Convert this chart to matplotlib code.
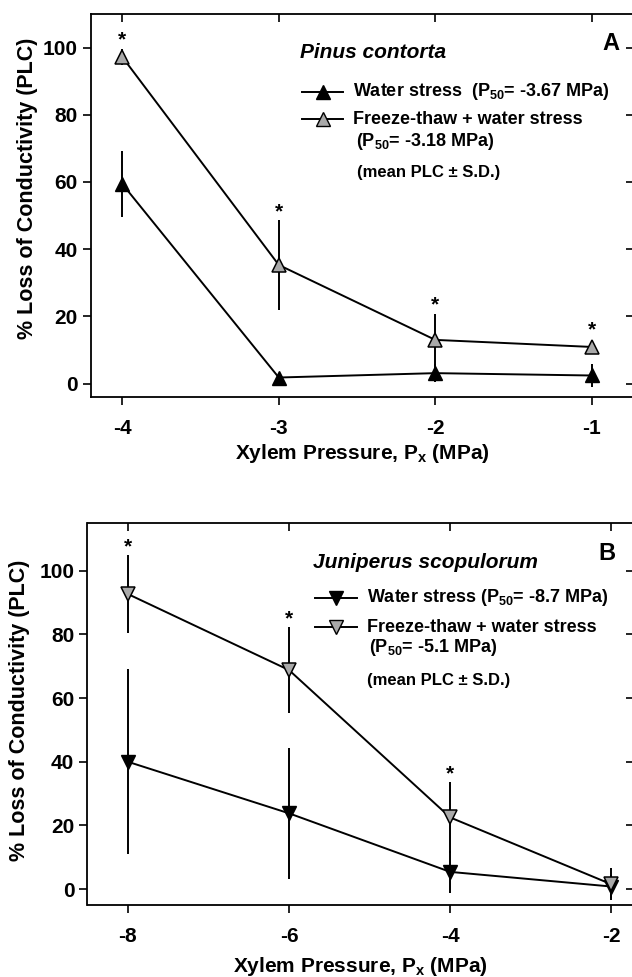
import numpy as np
import matplotlib
matplotlib.use("Agg")
import matplotlib.pyplot as plt
import matplotlib.lines as mlines

plt.rcParams['font.family'] = ['Liberation Sans', 'DejaVu Sans']
plt.rcParams['font.weight'] = 'bold'
plt.rcParams['mathtext.fontset'] = 'custom'
plt.rcParams['mathtext.rm'] = 'Liberation Sans:bold'
plt.rcParams['mathtext.it'] = 'Liberation Sans:bold:italic'
plt.rcParams['mathtext.bf'] = 'Liberation Sans:bold'

# panel A - Pinus contorta
px_a = [-4, -3, -2, -1]
ws_a = [59.4, 1.8, 3.1, 2.4]
ws_a_sd = [9.7, 1.0, 2.7, 3.4]
ft_a = [97.2, 35.3, 13.0, 10.9]
ft_a_sd = [2.5, 13.3, 7.8, 1.0]
sig_a = [True, True, True, True]

# panel B - Juniperus scopulorum
px_b = [-8, -6, -4, -2]
ws_b = [40.0, 23.8, 5.4, 0.8]
ws_b_sd = [29.0, 20.5, 6.6, 3.5]
ft_b = [92.7, 68.8, 22.5, 1.5]
ft_b_sd = [12.3, 13.5, 11.2, 5.0]
sig_b = [True, True, True, False]

yticks = [0, 20, 40, 60, 80, 100]
gray = '#a9a9a9'

W, H = 632, 977
fig = plt.figure(figsize=(W / 100, H / 100), dpi=100)


def fx(x):
    return x / W


def fy(y):
    return 1 - y / H


def panel(rect, x, ws, ws_sd, ft, ft_sd, sig, xlim, ylim, marker, ylab_pos, xpad):
    l, t, r, b = rect
    ax = fig.add_axes([fx(l), fy(b), fx(r - l), (b - t) / H])
    ax.errorbar(x, ws, yerr=ws_sd, fmt='-', color='black', lw=1.4,
                elinewidth=1.4, capsize=0, marker=marker, ms=9.5,
                mfc='black', mec='black', zorder=3)
    ax.errorbar(x, ft, yerr=ft_sd, fmt='-', color='black', lw=1.4,
                elinewidth=1.4, capsize=0, marker=marker, ms=9.5,
                mfc=gray, mec='black', mew=1.1, zorder=4)
    for xi, m, s, flag in zip(x, ft, ft_sd, sig):
        if flag:
            top = m + max(s, 2.5)
            ax.annotate('*', (xi, top), xytext=(0, 6), textcoords='offset points',
                        ha='center', va='center', fontsize=15, fontweight='bold')
    ax.set_xlim(*xlim)
    ax.set_ylim(*ylim)
    ax.set_xticks(x)
    ax.set_xticklabels([str(v) for v in x])
    ax.set_yticks(yticks)
    ax.tick_params(axis='both', labelsize=15, width=1.2, length=6, direction='out',
                   top=True, right=True)
    ax.tick_params(axis='x', pad=10)
    for tk in ax.xaxis.get_major_ticks():
        tk.tick2line.set_marker(mlines.TICKDOWN)
    for tk in ax.yaxis.get_major_ticks():
        tk.tick2line.set_marker(mlines.TICKLEFT)
    for sp in ax.spines.values():
        sp.set_linewidth(1.3)
    ax.set_ylabel('% Loss of Conductivity (PLC)', fontsize=15.5, fontweight='bold')
    ax.yaxis.set_label_coords(*ylab_pos)
    ax.set_xlabel(r'Xylem Pressure, P$_{\mathrm{x}}$ (MPa)', fontsize=15,
                  fontweight='bold', labelpad=xpad)
    return ax


def legend(x0, x1, y1, y2, marker, title, ty, lab1, lab2, lab3, y3, x3, ym, xm):
    xt = x1 + 10
    fig.text(fx(x0 - 2), fy(ty), title, fontsize=15, fontweight='bold',
             style='italic', va='center', ha='left')
    for yy, fc, lab in [(y1, 'black', lab1), (y2, gray, lab2)]:
        fig.add_artist(mlines.Line2D([fx(x0), fx(x1)], [fy(yy), fy(yy)], color='black',
                                     lw=1.4, transform=fig.transFigure))
        fig.add_artist(mlines.Line2D([fx((x0 + x1) / 2)], [fy(yy)], marker=marker, ms=9.5,
                                     mfc=fc, mec='black', ls='none',
                                     transform=fig.transFigure))
        fig.text(fx(xt), fy(yy), lab, fontsize=13, fontweight='bold', va='center')
    fig.text(fx(x3), fy(y3), lab3, fontsize=13, fontweight='bold', va='center')
    fig.text(fx(xm), fy(ym), '(mean PLC \u00b1 S.D.)', fontsize=12,
             fontweight='bold', va='center')


axa = panel((91, 14, 634, 397), px_a, ws_a, ws_a_sd, ft_a, ft_a_sd, sig_a,
            (-4.2, -0.73), (-4, 110), '^', (-0.098, 0.545), 3)
legend(302, 343, 92, 119, '^', 'Pinus contorta', 53,
       r'Water stress  (P$_{50}$= -3.67 MPa)', 'Freeze-thaw + water stress',
       r'(P$_{50}$= -3.18 MPa)', 142, 356, 173, 357)
fig.text(fx(611), fy(43), 'A', fontsize=17, fontweight='bold', ha='center', va='center')

axb = panel((87.5, 523, 634, 905), px_b, ws_b, ws_b_sd, ft_b, ft_b_sd, sig_b,
            (-8.5, -1.72), (-5, 115), 'v', (-0.105, 0.51), 6)
legend(315, 357, 598, 627, 'v', 'Juniperus scopulorum', 562,
       r'Water stress (P$_{50}$= -8.7 MPa)', 'Freeze-thaw + water stress',
       r'(P$_{50}$= -5.1 MPa)', 648, 369, 680, 367)
fig.text(fx(607), fy(553), 'B', fontsize=17, fontweight='bold', ha='center', va='center')

fig.savefig('out.png', dpi=100)
